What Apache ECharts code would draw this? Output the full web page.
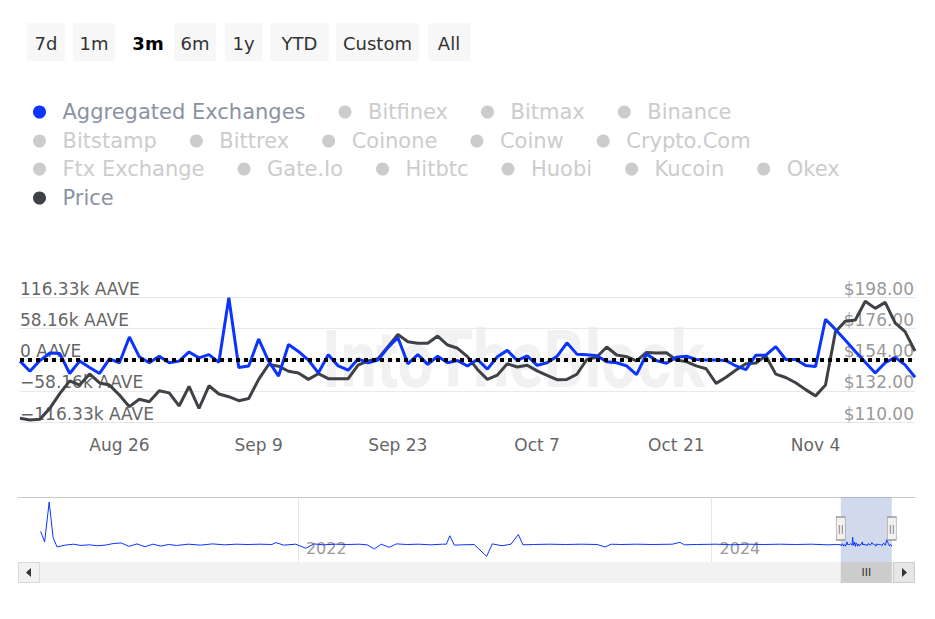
<!DOCTYPE html>
<html><head><meta charset="utf-8">
<script src="https://cdn.jsdelivr.net/npm/echarts@6/dist/echarts.min.js"></script>
<style>html,body{margin:0;padding:0;background:#fff}#c{width:935px;height:619px}</style>
</head><body><div id="c"></div>
<script>
// ---------- data ----------
const startDate = [2024, 7, 16]; // 2024-08-16, daily points
const blueValues = [ // Aggregated Exchanges net flow, k AAVE
  -3,-22,-2,12,11,-26,-3,-15,-26,1,
  -6,42,5,-6,6,-6,-3,14,3,9,
  -5,115,-15,-12,38,-3,-31,28,15,-1,
  -25,9,-12,-20,1,-6,-1,22,41,-8,
  9,-9,6,-6,-2,-12,0,-18,5,17,
  -2,7,-11,-6,6,31,10,9,7,-4,
  -6,-12,-28,10,-2,-7,4,6,0,-1,
  -1,-2,-12,-19,8,8,24,0,0,-11,
  -13,75,56,36,15,-5,-25,-6,4,-10,-33
];
const priceValues = [ // USD
  112.6,111.4,112,119.6,130,139,136,143.8,137.5,136,
  129,120.8,126,124.3,132,130.5,121.3,135,119.5,135.5,
  129.7,127.8,125,126.5,140,150.5,149.3,145.7,144.5,140,
  144,140.5,140.5,140.5,150,153,154.6,163,171.7,166.5,
  165.4,165.4,170.5,164.2,161.9,156,147,140,143,151,
  148.7,150,146,142.8,139.8,140,143.6,154,155.8,162.8,
  157.2,156,153,159,158.6,158.8,153.6,152.5,149.5,147.5,
  137.2,141.5,146.6,151,151.5,156.5,143.7,141.3,137.6,132.8,
  128.4,136,173.6,181,181.8,195,190,194.2,179.8,173.6,160
];
const xTickDates = ['2024-08-26','2024-09-09','2024-09-23','2024-10-07','2024-10-21','2024-11-04'];
const leftTickLabels = ['\u2212116.33k AAVE','\u221258.16k AAVE','0 AAVE','58.16k AAVE','116.33k AAVE'];
const leftAxisMin = -116.33, leftAxisMax = 116.33, leftAxisStep = 58.165;
const priceAxisMin = 110, priceAxisMax = 198, priceAxisStep = 22;

const navDates = ['2020-10-04','2020-10-11','2020-10-19','2020-10-26','2020-11-02','2020-11-16','2020-12-01','2020-12-14','2020-12-29',
  '2021-01-12','2021-01-26','2021-02-09','2021-02-23','2021-03-09','2021-03-23','2021-04-06','2021-04-20','2021-05-04','2021-05-18',
  '2021-06-01','2021-06-22','2021-07-13','2021-08-03','2021-08-24','2021-09-14','2021-10-05','2021-10-26','2021-11-16','2021-11-23',
  '2021-12-07','2021-12-28','2022-01-15','2022-01-29','2022-02-15','2022-03-08','2022-03-29','2022-04-19','2022-05-03','2022-05-16',
  '2022-05-28','2022-06-11','2022-06-24','2022-07-12','2022-08-02','2022-08-23','2022-09-13','2022-09-20','2022-09-26','2022-10-04',
  '2022-10-18','2022-11-08','2022-11-30','2022-12-10','2022-12-27','2023-01-12','2023-01-25','2023-02-02','2023-02-21','2023-03-21',
  '2023-04-18','2023-05-16','2023-06-13','2023-06-27','2023-07-08','2023-07-25','2023-08-22','2023-09-19','2023-10-24','2023-11-06',
  '2023-11-14','2023-12-05','2024-01-09','2024-02-06','2024-03-05','2024-04-02','2024-04-30','2024-05-28','2024-06-25','2024-07-23','2024-08-09'];
const navValues = [210,40,680,110,-40,-10,5,-15,-5,
  -20,-10,15,25,-30,10,-35,5,-25,0,
  -15,5,-10,10,-5,5,0,5,0,30,
  -10,5,-60,10,-5,5,0,5,-5,-70,
  5,-45,10,0,5,-5,5,5,140,-10,
  -5,0,-190,10,-20,5,160,-5,0,5,
  0,5,0,-40,5,0,5,0,5,35,
  -5,0,5,-5,5,0,5,0,5,-5,0];
const navMinDate = '2020-08-25', navMaxDate = '2024-12-25';
const navYearTicks = ['2022-01-01','2024-01-01'];

const rangeButtons = ['7d','1m','3m','6m','1y','YTD','Custom','All'];
const selectedButton = '3m';
const legendRows = [
  ['Aggregated Exchanges','Bitfinex','Bitmax','Binance'],
  ['Bitstamp','Bittrex','Coinone','Coinw','Crypto.Com'],
  ['Ftx Exchange','Gate.Io','Hitbtc','Huobi','Kucoin','Okex'],
  ['Price']
];
const inactiveExchanges = ['Bitfinex','Bitmax','Binance','Bitstamp','Bittrex','Coinone','Coinw','Crypto.Com','Ftx Exchange','Gate.Io','Hitbtc','Huobi','Kucoin','Okex'];

// ---------- helpers ----------
const DAY = 86400000;
const FONT = 'DejaVu Sans';
const MONTHS = ['Jan','Feb','Mar','Apr','May','Jun','Jul','Aug','Sep','Oct','Nov','Dec'];
function ts(s){ const p = s.split('-').map(Number); return Date.UTC(p[0], p[1]-1, p[2]); }
const t0 = Date.UTC(startDate[0], startDate[1], startDate[2]);
const mainDates = blueValues.map((_, i) => t0 + i * DAY);
const tFirst = mainDates[0], tLast = mainDates[mainDates.length - 1];
const blueData = mainDates.map((t, i) => [t, blueValues[i]]);
const priceData = mainDates.map((t, i) => [t, priceValues[i]]);
const navData = navDates.map((d, i) => [ts(d), navValues[i]]).concat(blueData);
const navMin = ts(navMinDate), navMax = ts(navMaxDate);

const BLUE = '#0a34ff', DARK = '#3e4247';

// ---------- UI graphics ----------
const btnBoxes = {'7d':[27,38],'1m':[73,42],'3m':[128,40],'6m':[174,42],'1y':[225,37],'YTD':[270,59],'Custom':[336,83],'All':[428,42]};
const graphics = [];
rangeButtons.forEach(b => {
  const [x, w] = btnBoxes[b];
  const sel = b === selectedButton;
  if (!sel) graphics.push({type:'rect', shape:{x:x, y:23, width:w, height:38, r:2}, style:{fill:'#f7f7f7'}, z:50});
  graphics.push({type:'text', x:x + w/2, y:43, z:51, style:{text:b, fontFamily:FONT, fontSize:18, fontWeight: sel ? 'bold' : 'normal', fill: sel ? '#000' : '#333', align:'center', verticalAlign:'middle'}});
});
graphics.push({type:'text', x:322, y:360, z:-10, scaleX:0.8, style:{text:'IntoTheBlock', fontFamily:'Roboto', fontSize:80, fontWeight:'bold', fill:'#f1f1f1', verticalAlign:'middle'}});
graphics.push({type:'rect', shape:{x:18.5, y:562.5, width:21, height:20}, style:{fill:'#f2f2f2', stroke:'#d9d9d9', lineWidth:1}, z:60});
graphics.push({type:'polygon', shape:{points:[[31,568],[31,577],[26,572.5]]}, style:{fill:'#333'}, z:61});
graphics.push({type:'rect', shape:{x:893.5, y:562.5, width:21, height:20}, style:{fill:'#e6e6e6', stroke:'#cccccc', lineWidth:1}, z:60});
graphics.push({type:'polygon', shape:{points:[[902,568],[902,577],[907,572.5]]}, style:{fill:'#333'}, z:61});

// ---------- chart ----------
const chart = echarts.init(document.getElementById('c'), null, {renderer:'svg'});
const legendTops = [100, 129, 157, 186];
const option = {
  animation: false,
  backgroundColor: '#fff',
  textStyle: {fontFamily: FONT},
  graphic: graphics,
  legend: legendRows.map((row, r) => ({
    data: row, left: 33, top: legendTops[r], padding: 0, itemGap: 33, itemWidth: 36, itemHeight: 13, icon: 'circle',
    textStyle: {fontSize: 21, color: '#8a93a1', fontFamily: FONT, lineHeight: 24},
    inactiveColor: '#cccccc', inactiveBorderColor: '#cccccc',
    selected: Object.fromEntries(row.map(n => [n, !inactiveExchanges.includes(n)]))
  })),
  grid: [
    {left: 20, right: 20, top: 297, height: 125},
    {left: 18, right: 20, top: 497, height: 65},
    {left: 18, right: 20, top: 562, height: 21, show: true, backgroundColor: '#f2f2f2', borderWidth: 0}
  ],
  xAxis: [
    {gridIndex: 0, type: 'value', min: tFirst, max: tLast,
      axisLine: {show: false}, axisTick: {show: false, customValues: xTickDates.map(ts)}, splitLine: {show: false},
      axisLabel: {customValues: xTickDates.map(ts), color: '#666', fontSize: 17, margin: 14, fontFamily: FONT,
        formatter: v => { const d = new Date(v); return MONTHS[d.getUTCMonth()] + ' ' + d.getUTCDate(); }}},
    {gridIndex: 1, type: 'value', min: navMin, max: navMax,
      axisLine: {show: false}, axisTick: {show: false, customValues: navYearTicks.map(ts)},
      splitLine: {show: true, lineStyle: {color: '#e6e6e6'}},
      axisLabel: {customValues: navYearTicks.map(ts), inside: true, color: '#999', fontSize: 16, fontFamily: FONT,
        align: 'left', verticalAlign: 'bottom', margin: 6, padding: [0, 0, 0, 8],
        formatter: v => String(new Date(v).getUTCFullYear())}},
    {gridIndex: 1, type: 'value', position: 'top', min: 0, max: 1,
      axisLine: {show: true, lineStyle: {color: '#cccccc', width: 1}}, axisTick: {show: false}, axisLabel: {show: false}, splitLine: {show: false}},
    {gridIndex: 2, type: 'value', min: navMin, max: navMax, show: false}
  ],
  yAxis: [
    {gridIndex: 0, type: 'value', position: 'left', min: leftAxisMin, max: leftAxisMax, interval: leftAxisStep,
      axisLine: {show: false}, axisTick: {show: false},
      splitLine: {show: true, lineStyle: {color: '#e8e8e8'}},
      axisLabel: {inside: true, margin: 0, verticalAlign: 'bottom', color: '#666', fontSize: 17, fontFamily: FONT,
        formatter: v => leftTickLabels[Math.round(v / leftAxisStep) + 2]}},
    {gridIndex: 0, type: 'value', position: 'right', min: priceAxisMin, max: priceAxisMax, interval: priceAxisStep,
      axisLine: {show: false}, axisTick: {show: false}, splitLine: {show: false},
      axisLabel: {inside: true, margin: 1, verticalAlign: 'bottom', color: '#999', fontSize: 17, fontFamily: FONT,
        formatter: v => '$' + v.toFixed(2)}},
    {gridIndex: 1, type: 'value', min: -280, max: 760, show: false},
    {gridIndex: 2, type: 'value', min: 0, max: 1, show: false}
  ],
  series: [
    {name: 'Price', type: 'line', xAxisIndex: 0, yAxisIndex: 1, data: priceData, showSymbol: false, z: 2,
      lineStyle: {width: 3, color: DARK}, itemStyle: {color: DARK}},
    {name: 'Aggregated Exchanges', type: 'line', xAxisIndex: 0, yAxisIndex: 0, data: blueData, showSymbol: false, z: 3,
      lineStyle: {width: 3, color: BLUE}, itemStyle: {color: BLUE},
      markLine: {silent: true, symbol: 'none', label: {show: false},
        lineStyle: {color: '#000', width: 4, type: [4, 4]}, data: [{yAxis: 0}]}},
    ...inactiveExchanges.map(n => ({name: n, type: 'line', xAxisIndex: 0, yAxisIndex: 0, data: [], itemStyle: {color: '#cccccc'}})),
    {name: 'navigator', type: 'line', xAxisIndex: 1, yAxisIndex: 2, data: navData, showSymbol: false, silent: true,
      lineStyle: {width: 1, color: BLUE}, itemStyle: {color: BLUE},
      markArea: {silent: true, itemStyle: {color: 'rgba(102,133,194,0.3)'}, data: [[{xAxis: tFirst}, {xAxis: tLast}]]},
      markPoint: {silent: true, symbol: 'rect', symbolSize: [9, 23],
        itemStyle: {color: '#f2f2f2', borderColor: '#999', borderWidth: 1},
        label: {show: true, formatter: '||', color: '#666', fontSize: 9, fontFamily: FONT},
        data: [{coord: [tFirst, 256]}, {coord: [tLast, 256]}]}},
    {name: 'scrollbar', type: 'line', xAxisIndex: 3, yAxisIndex: 3, data: [[tFirst, 0.5]], showSymbol: false, silent: true,
      lineStyle: {opacity: 0},
      markArea: {silent: true, itemStyle: {color: '#cccccc'},
        label: {show: true, position: 'inside', formatter: 'III', color: '#333', fontSize: 11, fontFamily: FONT},
        data: [[{xAxis: tFirst}, {xAxis: tLast}]]}}
  ]
};
chart.setOption(option);
</script>
</body></html>
